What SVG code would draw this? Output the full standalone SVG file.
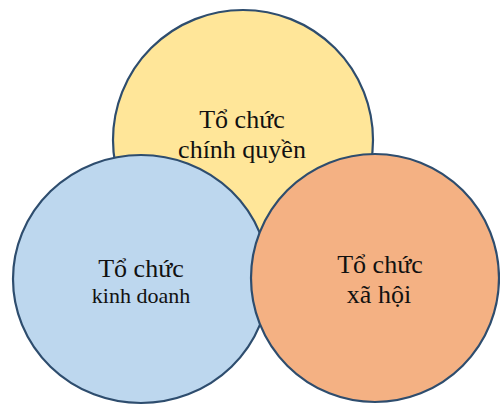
<svg xmlns="http://www.w3.org/2000/svg" width="500" height="406" viewBox="0 0 500 406">
<style>
.c{stroke:#2e4d6e;stroke-width:2.2}
.t{font-family:"Liberation Serif","Times New Roman",serif;font-size:26px;fill:#111;text-anchor:middle}
.s{font-size:22px}
</style>
<rect width="500" height="406" fill="#ffffff"/>
<g id="chinh-quyen">
<ellipse class="c" cx="243" cy="140" rx="130" ry="130" fill="#FFE699"/>
<text class="t" x="242" y="128">Tổ chức</text>
<text class="t" x="242" y="158">chính quyền</text>
</g>
<g id="kinh-doanh">
<ellipse class="c" cx="141" cy="279" rx="128" ry="124" fill="#BDD7EE"/>
<text class="t" x="141" y="277">Tổ chức</text>
<text class="t s" x="141" y="303">kinh doanh</text>
</g>
<g id="xa-hoi">
<ellipse class="c" cx="375" cy="278" rx="124" ry="124" fill="#F4B183"/>
<text class="t" x="380" y="273">Tổ chức</text>
<text class="t" x="379" y="303">xã hội</text>
</g>
<g id="connectors"></g>
</svg>
